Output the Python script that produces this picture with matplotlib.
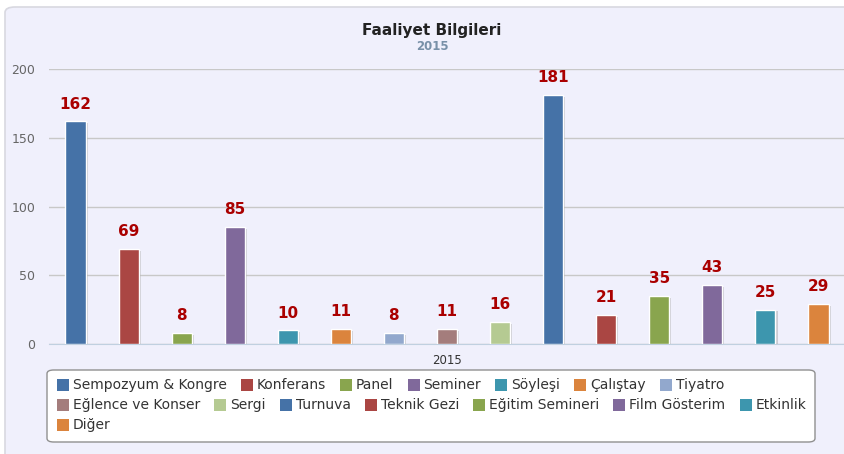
import matplotlib.pyplot as plt
import matplotlib.patheffects as pe
from matplotlib.patches import FancyBboxPatch, Rectangle

# Chart data
categories = ['Sempozyum & Kongre', 'Konferans', 'Panel', 'Seminer', 'Söyleşi',
              'Çalıştay', 'Tiyatro', 'Eğlence ve Konser', 'Sergi', 'Turnuva',
              'Teknik Gezi', 'Eğitim Semineri', 'Film Gösterim', 'Etkinlik', 'Diğer']
values = [162, 69, 8, 85, 10, 11, 8, 11, 16, 181, 21, 35, 43, 25, 29]
colors = ['#4572A7', '#AA4643', '#89A54E', '#80699B', '#3D96AE', '#DB843D',
          '#92A8CD', '#A47D7C', '#B5CA92', '#4572A7', '#AA4643', '#89A54E',
          '#80699B', '#3D96AE', '#DB843D']
yticks = [0, 50, 100, 150, 200]
x_label = '2015'
legend_rows = [7, 7, 1]

W, H = 845, 454
fig = plt.figure(figsize=(W / 100, H / 100), dpi=100)
fig.patch.set_facecolor('white')

# chart background with rounded border
bg = FancyBboxPatch((5 / W, -0.2), 1.2, 1 - 7 / H + 0.2,
                    boxstyle='round,pad=0,rounding_size=0.012',
                    transform=fig.transFigure, facecolor='#F0F0FC',
                    edgecolor='#D8D8E0', linewidth=1.2, zorder=-5)
fig.patches.append(bg)

ax = fig.add_axes([49 / W, 1 - 344 / H, 796 / W, 275 / H])
ax.set_facecolor('none')
n = len(values)
xs = list(range(n))
shadow = [pe.SimplePatchShadow(offset=(1.5, -1.2), shadow_rgbFace='#888888', alpha=0.35),
          pe.Normal()]
bars = ax.bar(xs, values, width=0.38, color=colors, edgecolor='white',
              linewidth=1.0, zorder=3)
for b in bars:
    b.set_path_effects(shadow)
for x, v in zip(xs, values):
    ax.annotate(str(v), (x, v), xytext=(0, 7), textcoords='offset points',
                ha='center', va='bottom', color='#AA0000', fontsize=11,
                fontweight='bold', family='DejaVu Sans')

ax.set_xlim(-0.5, n - 0.5)
ax.set_ylim(0, 200)
ax.set_yticks(yticks)
ax.set_xticks([])
ax.grid(axis='y', color='#C8C8C8', linewidth=1, zorder=0)
for s in ['left', 'right', 'top']:
    ax.spines[s].set_visible(False)
ax.spines['bottom'].set_color('#C0D0E0')
ax.tick_params(axis='y', length=0, pad=10, labelsize=9, labelcolor='#666666')
ax.text(0.5, -0.035, x_label, transform=ax.transAxes,
        ha='center', va='top', fontsize=8.5, color='#333333')

fig.text(432 / W, 1 - 30 / H, 'Faaliyet Bilgileri', ha='center', va='center',
         fontsize=11, fontweight='bold', color='#222222')
fig.text(432 / W, 1 - 47 / H, '2015', ha='center', va='center',
         fontsize=8.5, fontweight='bold', color='#7890A8')

# legend box with flow layout
lb = FancyBboxPatch((47 / W, 1 - 442 / H), 768 / W, 72 / H,
                    boxstyle='round,pad=0,rounding_size=0.008',
                    transform=fig.transFigure, facecolor='white',
                    edgecolor='#909090', linewidth=1.0, zorder=1)
fig.patches.append(lb)
fig.canvas.draw()
renderer = fig.canvas.get_renderer()
row_y = [385, 405, 425]
idx = 0
for r, cnt in enumerate(legend_rows):
    xp = 57
    for k in range(cnt):
        y = row_y[r]
        sq = Rectangle((xp / W, 1 - (y + 6) / H), 12 / W, 12 / H,
                       transform=fig.transFigure, facecolor=colors[idx],
                       edgecolor='none', zorder=2)
        fig.patches.append(sq)
        t = fig.text((xp + 16) / W, 1 - y / H, categories[idx], ha='left',
                     va='center', fontsize=10, color='#333333', zorder=3)
        w = t.get_window_extent(renderer).width
        xp += 16 + w + 14
        idx += 1

fig.savefig('out.png', dpi=100)
